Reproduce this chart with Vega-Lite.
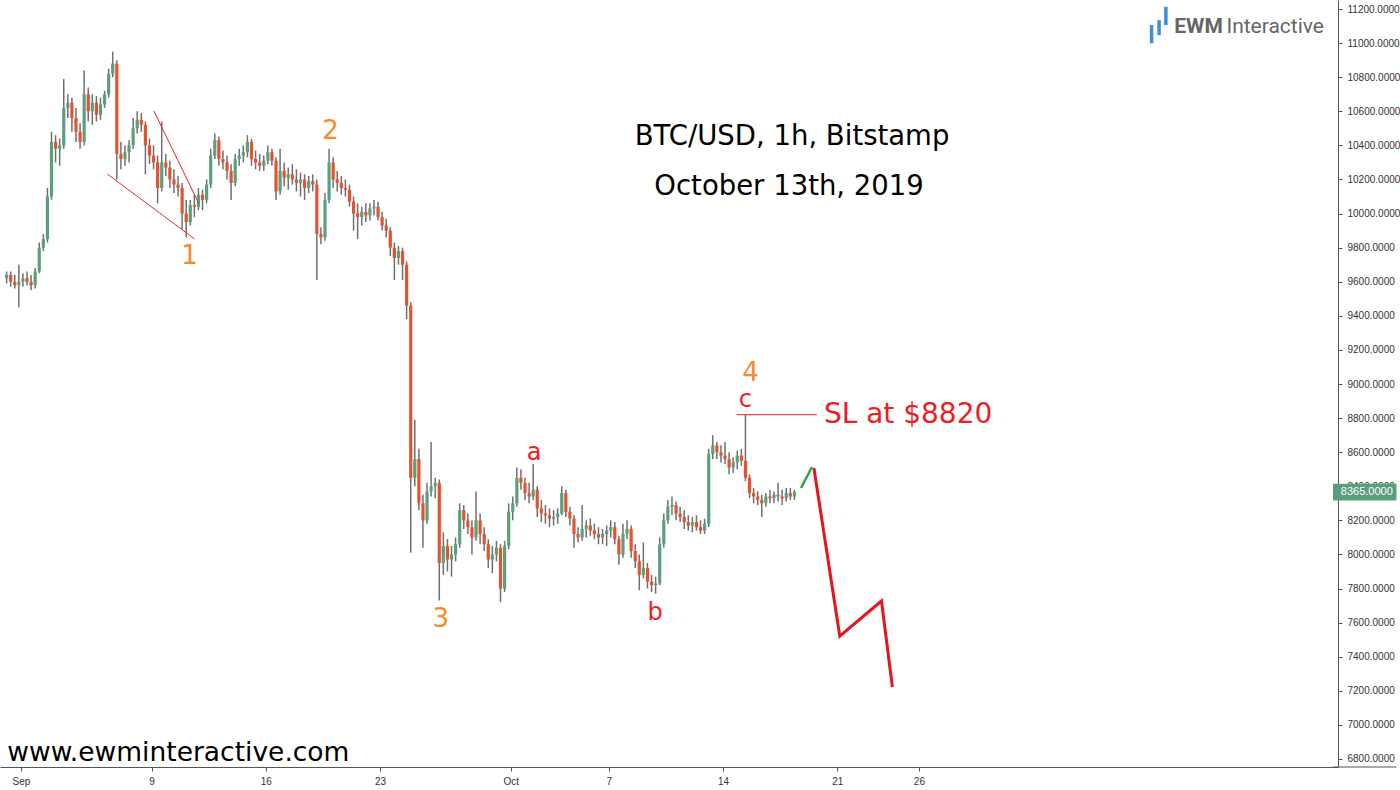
{
"$schema": "https://vega.github.io/schema/vega-lite/v6.json",
"width": 1338, "height": 767,
"autosize": {"type": "none"},
"padding": {"left": 0, "top": 0, "right": 62, "bottom": 23},
"background": "white",
"config": {"view": {"stroke": null}, "font": "DejaVu Sans",
"axis": {"labelOverlap": false, "labelFlush": false, "grid": false, "labelFont": "Liberation Sans", "labelFontSize": 10, "labelColor": "#333333", "tickSize": 4, "tickColor": "#555555", "domainColor": "#555555", "labelPadding": 5}},
"resolve": {"axis": {"x": "independent", "y": "independent"}},
"datasets": {
"candles": [
{"t":"2019-08-31T03:00","o":9620,"h":9660,"l":9590,"c":9640},
{"t":"2019-08-31T09:00","o":9640,"h":9660,"l":9570,"c":9600},
{"t":"2019-08-31T15:00","o":9600,"h":9640,"l":9560,"c":9580},
{"t":"2019-08-31T21:00","o":9580,"h":9700,"l":9450,"c":9600},
{"t":"2019-09-01T03:00","o":9600,"h":9650,"l":9570,"c":9620},
{"t":"2019-09-01T09:00","o":9620,"h":9660,"l":9580,"c":9600},
{"t":"2019-09-01T15:00","o":9600,"h":9640,"l":9550,"c":9580},
{"t":"2019-09-01T21:00","o":9580,"h":9680,"l":9560,"c":9660},
{"t":"2019-09-02T03:00","o":9660,"h":9830,"l":9650,"c":9800},
{"t":"2019-09-02T09:00","o":9800,"h":9880,"l":9780,"c":9850},
{"t":"2019-09-02T15:00","o":9850,"h":10150,"l":9830,"c":10100},
{"t":"2019-09-02T21:00","o":10100,"h":10480,"l":10080,"c":10420},
{"t":"2019-09-03T03:00","o":10420,"h":10460,"l":10300,"c":10380},
{"t":"2019-09-03T09:00","o":10380,"h":10440,"l":10280,"c":10400},
{"t":"2019-09-03T15:00","o":10400,"h":10790,"l":10380,"c":10620},
{"t":"2019-09-03T21:00","o":10620,"h":10700,"l":10560,"c":10650},
{"t":"2019-09-04T03:00","o":10650,"h":10680,"l":10480,"c":10560},
{"t":"2019-09-04T09:00","o":10560,"h":10620,"l":10420,"c":10480},
{"t":"2019-09-04T15:00","o":10480,"h":10530,"l":10380,"c":10420},
{"t":"2019-09-04T21:00","o":10420,"h":10840,"l":10400,"c":10700},
{"t":"2019-09-05T03:00","o":10700,"h":10740,"l":10540,"c":10600},
{"t":"2019-09-05T09:00","o":10600,"h":10700,"l":10520,"c":10650},
{"t":"2019-09-05T15:00","o":10650,"h":10690,"l":10540,"c":10580},
{"t":"2019-09-05T21:00","o":10580,"h":10680,"l":10550,"c":10640},
{"t":"2019-09-06T03:00","o":10640,"h":10720,"l":10620,"c":10700},
{"t":"2019-09-06T09:00","o":10700,"h":10850,"l":10680,"c":10820},
{"t":"2019-09-06T15:00","o":10820,"h":10950,"l":10800,"c":10880},
{"t":"2019-09-06T21:00","o":10880,"h":10900,"l":10200,"c":10350},
{"t":"2019-09-07T03:00","o":10350,"h":10420,"l":10260,"c":10320},
{"t":"2019-09-07T09:00","o":10320,"h":10400,"l":10280,"c":10360},
{"t":"2019-09-07T15:00","o":10360,"h":10430,"l":10300,"c":10400},
{"t":"2019-09-07T21:00","o":10400,"h":10560,"l":10380,"c":10500},
{"t":"2019-09-08T03:00","o":10500,"h":10600,"l":10470,"c":10550},
{"t":"2019-09-08T09:00","o":10550,"h":10590,"l":10480,"c":10520},
{"t":"2019-09-08T15:00","o":10520,"h":10540,"l":10230,"c":10400},
{"t":"2019-09-08T21:00","o":10400,"h":10440,"l":10290,"c":10340},
{"t":"2019-09-09T03:00","o":10340,"h":10400,"l":10260,"c":10300},
{"t":"2019-09-09T09:00","o":10300,"h":10340,"l":10060,"c":10150},
{"t":"2019-09-09T15:00","o":10150,"h":10540,"l":10130,"c":10300},
{"t":"2019-09-09T21:00","o":10300,"h":10350,"l":10220,"c":10270},
{"t":"2019-09-10T03:00","o":10270,"h":10310,"l":10150,"c":10200},
{"t":"2019-09-10T09:00","o":10200,"h":10260,"l":10120,"c":10170},
{"t":"2019-09-10T15:00","o":10170,"h":10220,"l":10100,"c":10150},
{"t":"2019-09-10T21:00","o":10150,"h":10180,"l":9910,"c":10000},
{"t":"2019-09-11T03:00","o":10000,"h":10080,"l":9860,"c":9950},
{"t":"2019-09-11T09:00","o":9950,"h":10080,"l":9930,"c":10050},
{"t":"2019-09-11T15:00","o":10050,"h":10110,"l":9980,"c":10040},
{"t":"2019-09-11T21:00","o":10040,"h":10150,"l":10020,"c":10110},
{"t":"2019-09-12T03:00","o":10110,"h":10140,"l":10020,"c":10080},
{"t":"2019-09-12T09:00","o":10080,"h":10200,"l":10060,"c":10170},
{"t":"2019-09-12T15:00","o":10170,"h":10380,"l":10150,"c":10340},
{"t":"2019-09-12T21:00","o":10340,"h":10470,"l":10320,"c":10430},
{"t":"2019-09-13T03:00","o":10430,"h":10450,"l":10280,"c":10320},
{"t":"2019-09-13T09:00","o":10320,"h":10370,"l":10260,"c":10300},
{"t":"2019-09-13T15:00","o":10300,"h":10340,"l":10200,"c":10250},
{"t":"2019-09-13T21:00","o":10250,"h":10290,"l":10080,"c":10180},
{"t":"2019-09-14T03:00","o":10180,"h":10350,"l":10160,"c":10320},
{"t":"2019-09-14T09:00","o":10320,"h":10380,"l":10280,"c":10340},
{"t":"2019-09-14T15:00","o":10340,"h":10400,"l":10300,"c":10360},
{"t":"2019-09-14T21:00","o":10360,"h":10460,"l":10330,"c":10420},
{"t":"2019-09-15T03:00","o":10420,"h":10440,"l":10280,"c":10320},
{"t":"2019-09-15T09:00","o":10320,"h":10370,"l":10260,"c":10300},
{"t":"2019-09-15T15:00","o":10300,"h":10350,"l":10250,"c":10280},
{"t":"2019-09-15T21:00","o":10280,"h":10340,"l":10250,"c":10310},
{"t":"2019-09-16T03:00","o":10310,"h":10400,"l":10290,"c":10360},
{"t":"2019-09-16T09:00","o":10360,"h":10380,"l":10280,"c":10310},
{"t":"2019-09-16T15:00","o":10310,"h":10330,"l":10080,"c":10130},
{"t":"2019-09-16T21:00","o":10130,"h":10380,"l":10110,"c":10250},
{"t":"2019-09-17T03:00","o":10250,"h":10300,"l":10160,"c":10210},
{"t":"2019-09-17T09:00","o":10210,"h":10270,"l":10140,"c":10230},
{"t":"2019-09-17T15:00","o":10230,"h":10290,"l":10170,"c":10200},
{"t":"2019-09-17T21:00","o":10200,"h":10260,"l":10130,"c":10180},
{"t":"2019-09-18T03:00","o":10180,"h":10240,"l":10100,"c":10200},
{"t":"2019-09-18T09:00","o":10200,"h":10230,"l":10080,"c":10150},
{"t":"2019-09-18T15:00","o":10150,"h":10220,"l":10120,"c":10190},
{"t":"2019-09-18T21:00","o":10190,"h":10230,"l":10130,"c":10170},
{"t":"2019-09-19T03:00","o":10170,"h":10200,"l":9610,"c":9880},
{"t":"2019-09-19T09:00","o":9880,"h":9920,"l":9820,"c":9860},
{"t":"2019-09-19T15:00","o":9860,"h":10120,"l":9840,"c":10080},
{"t":"2019-09-19T21:00","o":10080,"h":10380,"l":10060,"c":10300},
{"t":"2019-09-20T03:00","o":10300,"h":10330,"l":10150,"c":10200},
{"t":"2019-09-20T09:00","o":10200,"h":10250,"l":10130,"c":10180},
{"t":"2019-09-20T15:00","o":10180,"h":10220,"l":10110,"c":10150},
{"t":"2019-09-20T21:00","o":10150,"h":10200,"l":10100,"c":10140},
{"t":"2019-09-21T03:00","o":10140,"h":10170,"l":10040,"c":10070},
{"t":"2019-09-21T09:00","o":10070,"h":10100,"l":9900,"c":10000},
{"t":"2019-09-21T15:00","o":10000,"h":10060,"l":9850,"c":9980},
{"t":"2019-09-21T21:00","o":9980,"h":10040,"l":9930,"c":10010},
{"t":"2019-09-22T03:00","o":10010,"h":10060,"l":9950,"c":9990},
{"t":"2019-09-22T09:00","o":9990,"h":10060,"l":9960,"c":10030},
{"t":"2019-09-22T15:00","o":10030,"h":10080,"l":9990,"c":10040},
{"t":"2019-09-22T21:00","o":10040,"h":10070,"l":9960,"c":9980},
{"t":"2019-09-23T03:00","o":9980,"h":10010,"l":9900,"c":9930},
{"t":"2019-09-23T09:00","o":9930,"h":9970,"l":9860,"c":9900},
{"t":"2019-09-23T15:00","o":9900,"h":9920,"l":9750,"c":9800},
{"t":"2019-09-23T21:00","o":9800,"h":9830,"l":9610,"c":9740},
{"t":"2019-09-24T03:00","o":9740,"h":9810,"l":9700,"c":9780},
{"t":"2019-09-24T09:00","o":9780,"h":9800,"l":9610,"c":9700},
{"t":"2019-09-24T15:00","o":9700,"h":9720,"l":9380,"c":9460},
{"t":"2019-09-24T21:00","o":9460,"h":9480,"l":8010,"c":8450},
{"t":"2019-09-25T03:00","o":8450,"h":8790,"l":8400,"c":8560},
{"t":"2019-09-25T09:00","o":8560,"h":8620,"l":8260,"c":8300},
{"t":"2019-09-25T15:00","o":8300,"h":8350,"l":8040,"c":8200},
{"t":"2019-09-25T21:00","o":8200,"h":8420,"l":8180,"c":8370},
{"t":"2019-09-26T03:00","o":8370,"h":8660,"l":8340,"c":8400},
{"t":"2019-09-26T09:00","o":8400,"h":8450,"l":8330,"c":8420},
{"t":"2019-09-26T15:00","o":8420,"h":8440,"l":7730,"c":7950},
{"t":"2019-09-26T21:00","o":7950,"h":8130,"l":7880,"c":8050},
{"t":"2019-09-27T03:00","o":8050,"h":8090,"l":7900,"c":7970},
{"t":"2019-09-27T09:00","o":7970,"h":8050,"l":7870,"c":8000},
{"t":"2019-09-27T15:00","o":8000,"h":8100,"l":7960,"c":8060},
{"t":"2019-09-27T21:00","o":8060,"h":8300,"l":8040,"c":8260},
{"t":"2019-09-28T03:00","o":8260,"h":8290,"l":8150,"c":8200},
{"t":"2019-09-28T09:00","o":8200,"h":8240,"l":8120,"c":8160},
{"t":"2019-09-28T15:00","o":8160,"h":8200,"l":8000,"c":8100},
{"t":"2019-09-28T21:00","o":8100,"h":8370,"l":8080,"c":8200},
{"t":"2019-09-29T03:00","o":8200,"h":8240,"l":8060,"c":8120},
{"t":"2019-09-29T09:00","o":8120,"h":8160,"l":8020,"c":8060},
{"t":"2019-09-29T15:00","o":8060,"h":8090,"l":7920,"c":7970},
{"t":"2019-09-29T21:00","o":7970,"h":8050,"l":7890,"c":8000},
{"t":"2019-09-30T03:00","o":8000,"h":8080,"l":7960,"c":8040},
{"t":"2019-09-30T09:00","o":8040,"h":8060,"l":7720,"c":7800},
{"t":"2019-09-30T15:00","o":7800,"h":8080,"l":7780,"c":8050},
{"t":"2019-09-30T21:00","o":8050,"h":8300,"l":8030,"c":8250},
{"t":"2019-10-01T03:00","o":8250,"h":8340,"l":8200,"c":8300},
{"t":"2019-10-01T09:00","o":8300,"h":8510,"l":8280,"c":8450},
{"t":"2019-10-01T15:00","o":8450,"h":8500,"l":8380,"c":8420},
{"t":"2019-10-01T21:00","o":8420,"h":8450,"l":8320,"c":8360},
{"t":"2019-10-02T03:00","o":8360,"h":8420,"l":8300,"c":8340},
{"t":"2019-10-02T09:00","o":8340,"h":8530,"l":8320,"c":8380},
{"t":"2019-10-02T15:00","o":8380,"h":8400,"l":8220,"c":8270},
{"t":"2019-10-02T21:00","o":8270,"h":8320,"l":8190,"c":8240},
{"t":"2019-10-03T03:00","o":8240,"h":8290,"l":8180,"c":8230},
{"t":"2019-10-03T09:00","o":8230,"h":8270,"l":8160,"c":8210},
{"t":"2019-10-03T15:00","o":8210,"h":8260,"l":8170,"c":8220},
{"t":"2019-10-03T21:00","o":8220,"h":8270,"l":8180,"c":8240},
{"t":"2019-10-04T03:00","o":8240,"h":8400,"l":8230,"c":8360},
{"t":"2019-10-04T09:00","o":8360,"h":8380,"l":8220,"c":8250},
{"t":"2019-10-04T15:00","o":8250,"h":8280,"l":8170,"c":8210},
{"t":"2019-10-04T21:00","o":8210,"h":8230,"l":8040,"c":8120},
{"t":"2019-10-05T03:00","o":8120,"h":8160,"l":8070,"c":8100},
{"t":"2019-10-05T09:00","o":8100,"h":8290,"l":8080,"c":8150},
{"t":"2019-10-05T15:00","o":8150,"h":8200,"l":8100,"c":8170},
{"t":"2019-10-05T21:00","o":8170,"h":8210,"l":8110,"c":8140},
{"t":"2019-10-06T03:00","o":8140,"h":8180,"l":8090,"c":8120},
{"t":"2019-10-06T09:00","o":8120,"h":8160,"l":8060,"c":8100},
{"t":"2019-10-06T15:00","o":8100,"h":8150,"l":8060,"c":8120},
{"t":"2019-10-06T21:00","o":8120,"h":8170,"l":8050,"c":8140},
{"t":"2019-10-07T03:00","o":8140,"h":8200,"l":8100,"c":8160},
{"t":"2019-10-07T09:00","o":8160,"h":8190,"l":8060,"c":8090},
{"t":"2019-10-07T15:00","o":8090,"h":8110,"l":7940,"c":8000},
{"t":"2019-10-07T21:00","o":8000,"h":8180,"l":7980,"c":8120},
{"t":"2019-10-08T03:00","o":8120,"h":8200,"l":8090,"c":8150},
{"t":"2019-10-08T09:00","o":8150,"h":8170,"l":7980,"c":8020},
{"t":"2019-10-08T15:00","o":8020,"h":8060,"l":7920,"c":7960},
{"t":"2019-10-08T21:00","o":7960,"h":8000,"l":7790,"c":7880},
{"t":"2019-10-09T03:00","o":7880,"h":8070,"l":7860,"c":7920},
{"t":"2019-10-09T09:00","o":7920,"h":7950,"l":7800,"c":7840},
{"t":"2019-10-09T15:00","o":7840,"h":7880,"l":7780,"c":7820},
{"t":"2019-10-09T21:00","o":7820,"h":7870,"l":7770,"c":7830},
{"t":"2019-10-10T03:00","o":7830,"h":8100,"l":7820,"c":8060},
{"t":"2019-10-10T09:00","o":8060,"h":8240,"l":8040,"c":8200},
{"t":"2019-10-10T15:00","o":8200,"h":8320,"l":8180,"c":8280},
{"t":"2019-10-10T21:00","o":8280,"h":8340,"l":8230,"c":8290},
{"t":"2019-10-11T03:00","o":8290,"h":8310,"l":8200,"c":8240},
{"t":"2019-10-11T09:00","o":8240,"h":8280,"l":8190,"c":8220},
{"t":"2019-10-11T15:00","o":8220,"h":8260,"l":8150,"c":8190},
{"t":"2019-10-11T21:00","o":8190,"h":8230,"l":8140,"c":8170},
{"t":"2019-10-12T03:00","o":8170,"h":8220,"l":8130,"c":8190},
{"t":"2019-10-12T09:00","o":8190,"h":8230,"l":8140,"c":8160},
{"t":"2019-10-12T15:00","o":8160,"h":8200,"l":8120,"c":8140},
{"t":"2019-10-12T21:00","o":8140,"h":8210,"l":8120,"c":8180},
{"t":"2019-10-13T03:00","o":8180,"h":8620,"l":8160,"c":8590},
{"t":"2019-10-13T09:00","o":8590,"h":8700,"l":8560,"c":8640},
{"t":"2019-10-13T15:00","o":8640,"h":8660,"l":8560,"c":8600},
{"t":"2019-10-13T21:00","o":8600,"h":8640,"l":8540,"c":8580},
{"t":"2019-10-14T03:00","o":8580,"h":8660,"l":8530,"c":8560},
{"t":"2019-10-14T09:00","o":8560,"h":8600,"l":8470,"c":8510},
{"t":"2019-10-14T15:00","o":8510,"h":8570,"l":8480,"c":8540},
{"t":"2019-10-14T21:00","o":8540,"h":8610,"l":8500,"c":8580},
{"t":"2019-10-15T03:00","o":8580,"h":8620,"l":8520,"c":8550},
{"t":"2019-10-15T09:00","o":8550,"h":8820,"l":8430,"c":8450},
{"t":"2019-10-15T15:00","o":8450,"h":8470,"l":8330,"c":8360},
{"t":"2019-10-15T21:00","o":8360,"h":8390,"l":8300,"c":8340},
{"t":"2019-10-16T03:00","o":8340,"h":8370,"l":8290,"c":8320},
{"t":"2019-10-16T09:00","o":8320,"h":8350,"l":8220,"c":8300},
{"t":"2019-10-16T15:00","o":8300,"h":8360,"l":8280,"c":8340},
{"t":"2019-10-16T21:00","o":8340,"h":8380,"l":8300,"c":8330},
{"t":"2019-10-17T03:00","o":8330,"h":8370,"l":8300,"c":8350},
{"t":"2019-10-17T09:00","o":8350,"h":8420,"l":8310,"c":8340},
{"t":"2019-10-17T15:00","o":8340,"h":8380,"l":8290,"c":8330},
{"t":"2019-10-17T21:00","o":8330,"h":8390,"l":8310,"c":8360},
{"t":"2019-10-18T03:00","o":8360,"h":8390,"l":8320,"c":8340},
{"t":"2019-10-18T09:00","o":8340,"h":8380,"l":8320,"c":8365}
]
},
"layer": [
{
"data": {"name": "candles"},
"mark": {"type": "rule", "color": "#707070", "strokeWidth": 1.5},
"encoding": {
"x": {"field": "t", "type": "temporal",
"scale": {"type": "time", "nice": false, "domain": [{"year": 2019, "month": 8, "date": 31, "hours": 0, "minutes": 39}, {"year": 2019, "month": 11, "date": 20, "hours": 8, "minutes": 40}]},
"axis": {"title": null, "orient": "bottom", "grid": false,
"values": [{"year": 2019, "month": 9, "date": 1}, {"year": 2019, "month": 9, "date": 9}, {"year": 2019, "month": 9, "date": 16}, {"year": 2019, "month": 9, "date": 23}, {"year": 2019, "month": 10, "date": 1}, {"year": 2019, "month": 10, "date": 7}, {"year": 2019, "month": 10, "date": 14}, {"year": 2019, "month": 10, "date": 21}, {"year": 2019, "month": 10, "date": 26}],
"labelExpr": "date(datum.value) == 1 ? timeFormat(datum.value, '%b') : timeFormat(datum.value, '%-d')",
"labelFlush": false, "labelOverlap": false}},
"y": {"field": "l", "type": "quantitative",
"scale": {"domain": [6753, 11253], "zero": false, "nice": false},
"axis": {"title": null, "orient": "right", "grid": false,
"values": [6800, 7000, 7200, 7400, 7600, 7800, 8000, 8200, 8400, 8600, 8800, 9000, 9200, 9400, 9600, 9800, 10000, 10200, 10400, 10600, 10800, 11000, 11200],
"format": ".4f", "labelOverlap": false, "labelFlush": false}},
"y2": {"field": "h"}
}
},
{
"data": {"name": "candles"},
"mark": {"type": "bar", "size": 3.2},
"encoding": {
"x": {"field": "t", "type": "temporal", "axis": null,
"scale": {"type": "time", "nice": false, "domain": [{"year": 2019, "month": 8, "date": 31, "hours": 0, "minutes": 39}, {"year": 2019, "month": 11, "date": 20, "hours": 8, "minutes": 40}]}},
"y": {"field": "o", "type": "quantitative", "axis": null, "scale": {"domain": [6753, 11253], "zero": false, "nice": false}},
"y2": {"field": "c"},
"color": {"condition": {"test": "datum.c >= datum.o", "value": "#5c9f7d"}, "value": "#e4532f"}
}
},
{
"data": {"values": [
{"t": "2019-09-06T07:00", "p": 10232, "t2": "2019-09-11T15:20", "p2": 9851},
{"t": "2019-09-09T03:30", "p": 10602, "t2": "2019-09-11T21:10", "p2": 10062}
]},
"mark": {"type": "rule", "color": "#e8262d", "strokeWidth": 1},
"encoding": {
"x": {"field": "t", "type": "temporal", "axis": null,
"scale": {"type": "time", "nice": false, "domain": [{"year": 2019, "month": 8, "date": 31, "hours": 0, "minutes": 39}, {"year": 2019, "month": 11, "date": 20, "hours": 8, "minutes": 40}]}},
"x2": {"field": "t2"},
"y": {"field": "p", "type": "quantitative", "axis": null, "scale": {"domain": [6753, 11253], "zero": false, "nice": false}},
"y2": {"field": "p2"}
}
},
{
"data": {"values": [
{"t": "2019-10-14T20:00", "p": 8820, "t2": "2019-10-19T18:00", "p2": 8820}
]},
"mark": {"type": "rule", "color": "#ee1d23", "strokeWidth": 1},
"encoding": {
"x": {"field": "t", "type": "temporal", "axis": null,
"scale": {"type": "time", "nice": false, "domain": [{"year": 2019, "month": 8, "date": 31, "hours": 0, "minutes": 39}, {"year": 2019, "month": 11, "date": 20, "hours": 8, "minutes": 40}]}},
"x2": {"field": "t2"},
"y": {"field": "p", "type": "quantitative", "axis": null, "scale": {"domain": [6753, 11253], "zero": false, "nice": false}},
"y2": {"field": "p2"}
}
},
{
"data": {"values": [
{"t": "2019-11-20T08:40", "p": 6753, "t2": "2019-11-24T06:00", "p2": 6753}
]},
"mark": {"type": "rule", "color": "#555555", "strokeWidth": 1},
"encoding": {
"x": {"field": "t", "type": "temporal", "axis": null,
"scale": {"type": "time", "nice": false, "domain": [{"year": 2019, "month": 8, "date": 31, "hours": 0, "minutes": 39}, {"year": 2019, "month": 11, "date": 20, "hours": 8, "minutes": 40}]}},
"x2": {"field": "t2"},
"y": {"field": "p", "type": "quantitative", "axis": null, "scale": {"domain": [6753, 11253], "zero": false, "nice": false}},
"y2": {"field": "p2"}
}
},
{
"data": {"values": [
{"t": "2019-10-18T18:40", "p": 8390, "t2": "2019-10-19T10:50", "p2": 8513}
]},
"mark": {"type": "rule", "color": "#2aa845", "strokeWidth": 2.5},
"encoding": {
"x": {"field": "t", "type": "temporal", "axis": null,
"scale": {"type": "time", "nice": false, "domain": [{"year": 2019, "month": 8, "date": 31, "hours": 0, "minutes": 39}, {"year": 2019, "month": 11, "date": 20, "hours": 8, "minutes": 40}]}},
"x2": {"field": "t2"},
"y": {"field": "p", "type": "quantitative", "axis": null, "scale": {"domain": [6753, 11253], "zero": false, "nice": false}},
"y2": {"field": "p2"}
}
},
{
"data": {"values": [
{"t": "2019-10-19T13:40", "p": 8507},
{"t": "2019-10-21T03:40", "p": 7521},
{"t": "2019-10-23T17:00", "p": 7727},
{"t": "2019-10-24T09:00", "p": 7222}
]},
"mark": {"type": "line", "color": "#e3161e", "strokeWidth": 3},
"encoding": {
"x": {"field": "t", "type": "temporal", "axis": null,
"scale": {"type": "time", "nice": false, "domain": [{"year": 2019, "month": 8, "date": 31, "hours": 0, "minutes": 39}, {"year": 2019, "month": 11, "date": 20, "hours": 8, "minutes": 40}]}},
"y": {"field": "p", "type": "quantitative", "axis": null, "scale": {"domain": [6753, 11253], "zero": false, "nice": false}}
}
},
{
"data": {"values": [
{"t": "2019-09-11T08:00", "p": 9704, "label": "1"},
{"t": "2019-09-19T23:15", "p": 10437, "label": "2"},
{"t": "2019-09-26T17:00", "p": 7574, "label": "3"},
{"t": "2019-10-15T16:20", "p": 9018, "label": "4"}
]},
"mark": {"type": "text", "font": "DejaVu Sans", "fontSize": 26, "color": "#f68b2c", "align": "center", "baseline": "alphabetic"},
"encoding": {
"x": {"field": "t", "type": "temporal", "axis": null,
"scale": {"type": "time", "nice": false, "domain": [{"year": 2019, "month": 8, "date": 31, "hours": 0, "minutes": 39}, {"year": 2019, "month": 11, "date": 20, "hours": 8, "minutes": 40}]}},
"y": {"field": "p", "type": "quantitative", "axis": null, "scale": {"domain": [6753, 11253], "zero": false, "nice": false}},
"text": {"field": "label"}
}
},
{
"data": {"values": [
{"t": "2019-10-02T10:20", "p": 8554, "label": "a"},
{"t": "2019-10-09T20:10", "p": 7615, "label": "b"},
{"t": "2019-10-15T09:00", "p": 8865, "label": "c"}
]},
"mark": {"type": "text", "font": "DejaVu Sans", "fontSize": 24, "color": "#ee1d23", "align": "center", "baseline": "alphabetic"},
"encoding": {
"x": {"field": "t", "type": "temporal", "axis": null,
"scale": {"type": "time", "nice": false, "domain": [{"year": 2019, "month": 8, "date": 31, "hours": 0, "minutes": 39}, {"year": 2019, "month": 11, "date": 20, "hours": 8, "minutes": 40}]}},
"y": {"field": "p", "type": "quantitative", "axis": null, "scale": {"domain": [6753, 11253], "zero": false, "nice": false}},
"text": {"field": "label"}
}
},
{
"data": {"values": [
{"t": "2019-10-20T04:20", "p": 8771, "label": "SL at $8820"}
]},
"mark": {"type": "text", "font": "DejaVu Sans", "fontSize": 28, "color": "#ee1d23", "align": "left", "baseline": "alphabetic"},
"encoding": {
"x": {"field": "t", "type": "temporal", "axis": null,
"scale": {"type": "time", "nice": false, "domain": [{"year": 2019, "month": 8, "date": 31, "hours": 0, "minutes": 39}, {"year": 2019, "month": 11, "date": 20, "hours": 8, "minutes": 40}]}},
"y": {"field": "p", "type": "quantitative", "axis": null, "scale": {"domain": [6753, 11253], "zero": false, "nice": false}},
"text": {"field": "label"}
}
},
{
"data": {"values": [
{"t": "2019-10-18T05:30", "p": 10402, "label": "BTC/USD, 1h, Bitstamp"},
{"t": "2019-10-18T01:10", "p": 10109, "label": "October 13th, 2019"}
]},
"mark": {"type": "text", "font": "DejaVu Sans", "fontSize": 27.5, "color": "#000000", "align": "center", "baseline": "alphabetic"},
"encoding": {
"x": {"field": "t", "type": "temporal", "axis": null,
"scale": {"type": "time", "nice": false, "domain": [{"year": 2019, "month": 8, "date": 31, "hours": 0, "minutes": 39}, {"year": 2019, "month": 11, "date": 20, "hours": 8, "minutes": 40}]}},
"y": {"field": "p", "type": "quantitative", "axis": null, "scale": {"domain": [6753, 11253], "zero": false, "nice": false}},
"text": {"field": "label"}
}
},
{
"data": {"values": [
{"t": "2019-08-31T04:00", "p": 6788, "label": "www.ewminteractive.com"}
]},
"mark": {"type": "text", "font": "DejaVu Sans", "fontSize": 26.5, "color": "#000000", "align": "left", "baseline": "alphabetic"},
"encoding": {
"x": {"field": "t", "type": "temporal", "axis": null,
"scale": {"type": "time", "nice": false, "domain": [{"year": 2019, "month": 8, "date": 31, "hours": 0, "minutes": 39}, {"year": 2019, "month": 11, "date": 20, "hours": 8, "minutes": 40}]}},
"y": {"field": "p", "type": "quantitative", "axis": null, "scale": {"domain": [6753, 11253], "zero": false, "nice": false}},
"text": {"field": "label"}
}
},
{
"data": {"values": [
{"t": "2019-11-09T06:00", "p": 10999, "p2": 11106},
{"t": "2019-11-09T17:00", "p": 11047, "p2": 11135},
{"t": "2019-11-10T03:00", "p": 11106, "p2": 11213}
]},
"mark": {"type": "rule", "color": "#3f8ede", "strokeWidth": 3.5},
"encoding": {
"x": {"field": "t", "type": "temporal", "axis": null,
"scale": {"type": "time", "nice": false, "domain": [{"year": 2019, "month": 8, "date": 31, "hours": 0, "minutes": 39}, {"year": 2019, "month": 11, "date": 20, "hours": 8, "minutes": 40}]}},
"y": {"field": "p", "type": "quantitative", "axis": null, "scale": {"domain": [6753, 11253], "zero": false, "nice": false}},
"y2": {"field": "p2"}
}
},
{
"data": {"values": [
{"t": "2019-11-10T15:20", "p": 11059, "label": "EWM"}
]},
"mark": {"type": "text", "font": "Roboto", "fontWeight": "bold", "fontSize": 21, "color": "#666666", "align": "left", "baseline": "alphabetic"},
"encoding": {
"x": {"field": "t", "type": "temporal", "axis": null,
"scale": {"type": "time", "nice": false, "domain": [{"year": 2019, "month": 8, "date": 31, "hours": 0, "minutes": 39}, {"year": 2019, "month": 11, "date": 20, "hours": 8, "minutes": 40}]}},
"y": {"field": "p", "type": "quantitative", "axis": null, "scale": {"domain": [6753, 11253], "zero": false, "nice": false}},
"text": {"field": "label"}
}
},
{
"data": {"values": [
{"t": "2019-11-13T20:00", "p": 11059, "label": "Interactive"}
]},
"mark": {"type": "text", "font": "Roboto", "fontSize": 21, "color": "#666666", "align": "left", "baseline": "alphabetic"},
"encoding": {
"x": {"field": "t", "type": "temporal", "axis": null,
"scale": {"type": "time", "nice": false, "domain": [{"year": 2019, "month": 8, "date": 31, "hours": 0, "minutes": 39}, {"year": 2019, "month": 11, "date": 20, "hours": 8, "minutes": 40}]}},
"y": {"field": "p", "type": "quantitative", "axis": null, "scale": {"domain": [6753, 11253], "zero": false, "nice": false}},
"text": {"field": "label"}
}
},
{
"data": {"values": [
{"t": "2019-11-20T08:40", "t2": "2019-11-24T06:00", "p": 8317, "p2": 8415}
]},
"mark": {"type": "rect", "color": "#5a9e7c"},
"encoding": {
"x": {"field": "t", "type": "temporal", "axis": null,
"scale": {"type": "time", "nice": false, "domain": [{"year": 2019, "month": 8, "date": 31, "hours": 0, "minutes": 39}, {"year": 2019, "month": 11, "date": 20, "hours": 8, "minutes": 40}]}},
"x2": {"field": "t2"},
"y": {"field": "p", "type": "quantitative", "axis": null, "scale": {"domain": [6753, 11253], "zero": false, "nice": false}},
"y2": {"field": "p2"}
}
},
{
"data": {"values": [
{"t": "2019-11-22T10:20", "p": 8365, "label": "8365.0000"}
]},
"mark": {"type": "text", "font": "Liberation Sans", "fontSize": 11, "color": "#ffffff", "align": "center", "baseline": "middle"},
"encoding": {
"x": {"field": "t", "type": "temporal", "axis": null,
"scale": {"type": "time", "nice": false, "domain": [{"year": 2019, "month": 8, "date": 31, "hours": 0, "minutes": 39}, {"year": 2019, "month": 11, "date": 20, "hours": 8, "minutes": 40}]}},
"y": {"field": "p", "type": "quantitative", "axis": null, "scale": {"domain": [6753, 11253], "zero": false, "nice": false}},
"text": {"field": "label"}
}
}
]
}
